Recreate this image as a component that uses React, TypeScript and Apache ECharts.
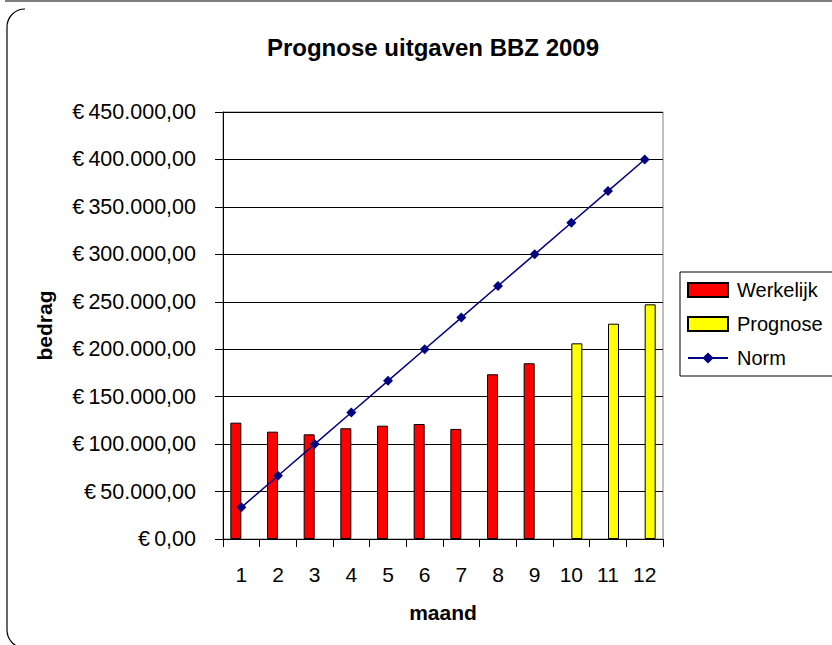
import React, { useEffect, useRef } from "react";
import * as echarts from "echarts";

const months = ["1", "2", "3", "4", "5", "6", "7", "8", "9", "10", "11", "12"];
const werkelijk = [122600, 113100, 110300, 116700, 119400, 121200, 116000, 173600, 185200, null, null, null];
const prognose = [null, null, null, null, null, null, null, null, null, 206200, 226900, 247300];
const norm = [33333, 66667, 100000, 133333, 166667, 200000, 233333, 266667, 300000, 333333, 366667, 400000];
const yMin = 0;
const yMax = 450000;
const yStep = 50000;

const FONT = "'Liberation Sans', Arial, sans-serif";

function euro(v: number): string {
  const intPart = Math.round(v).toString().replace(/\B(?=(\d{3})+(?!\d))/g, ".");
  return "€\u2009" + intPart + ",00";
}

export default function App() {
  const ref = useRef<HTMLDivElement>(null);
  useEffect(() => {
    if (!ref.current) return;
    const chart = echarts.init(ref.current, undefined, { renderer: "svg" });
    chart.setOption({
      animation: false,
      backgroundColor: "#ffffff",
      textStyle: { fontFamily: FONT },
      title: {
        text: "Prognose uitgaven BBZ 2009",
        left: 428,
        textAlign: "center",
        top: 30,
        textStyle: { fontFamily: FONT, fontSize: 24, fontWeight: "bold", color: "#000" },
      },
      legend: {
        orient: "vertical",
        left: 680,
        top: 272,
        padding: [8, 12, 8, 7],
        itemGap: 14,
        itemWidth: 40,
        itemHeight: 14,
        borderColor: "#000",
        borderWidth: 1,
        backgroundColor: "#fff",
        textStyle: { fontFamily: FONT, fontSize: 20, color: "#000", padding: [0, 0, 0, 4] },
        data: [
          { name: "Werkelijk", icon: "rect" },
          { name: "Prognose", icon: "rect" },
          { name: "Norm" },
        ],
      },
      grid: {
        left: 223,
        top: 112,
        width: 440,
        height: 427,
        show: true,
        borderColor: "#808080",
        borderWidth: 1,
        backgroundColor: "transparent",
      },
      xAxis: {
        type: "category",
        data: months,
        name: "maand",
        nameLocation: "middle",
        nameGap: 63,
        nameTextStyle: { fontFamily: FONT, fontSize: 21, fontWeight: "bold", color: "#000" },
        axisLine: { lineStyle: { color: "#000", width: 1 } },
        axisTick: { show: true, length: 8, alignWithLabel: false, lineStyle: { color: "#000" } },
        axisLabel: { fontFamily: FONT, fontSize: 21, color: "#000", margin: 25 },
        splitLine: { show: false },
      },
      yAxis: {
        type: "value",
        min: yMin,
        max: yMax,
        interval: yStep,
        name: "bedrag",
        nameLocation: "middle",
        nameRotate: 90,
        nameGap: 168,
        nameTextStyle: { fontFamily: FONT, fontSize: 21, fontWeight: "bold", color: "#000" },
        axisLine: { show: true, lineStyle: { color: "#000", width: 1 } },
        axisTick: { show: true, length: 8, lineStyle: { color: "#000" } },
        axisLabel: { fontFamily: FONT, fontSize: 21.5, color: "#000", margin: 27, formatter: (v: number) => euro(v) },
        splitLine: { show: true, lineStyle: { color: "#000", width: 1 } },
      },
      series: [
        {
          name: "Werkelijk",
          type: "bar",
          data: werkelijk,
          barGap: "0%",
          barCategoryGap: "40%",
          itemStyle: { color: "#ff0000", borderColor: "#000", borderWidth: 1 },
        },
        {
          name: "Prognose",
          type: "bar",
          data: prognose,
          barGap: "0%",
          barCategoryGap: "40%",
          itemStyle: { color: "#ffff00", borderColor: "#000", borderWidth: 1 },
        },
        {
          name: "Norm",
          type: "line",
          data: norm,
          symbol: "diamond",
          symbolSize: 10,
          itemStyle: { color: "#000080" },
          lineStyle: { color: "#000080", width: 1.5 },
          z: 5,
        },
      ],
      graphic: [
        { type: "line", shape: { x1: 5, y1: 1, x2: 832, y2: 1 }, style: { stroke: "#000", lineWidth: 1.2 }, z: 100 },
        { type: "line", shape: { x1: 7, y1: 27, x2: 7, y2: 630 }, style: { stroke: "#000", lineWidth: 1.2 }, z: 100 },
        {
          type: "arc",
          shape: { cx: 25, cy: 27, r: 18, startAngle: Math.PI, endAngle: Math.PI * 1.5, clockwise: true },
          style: { stroke: "#000", lineWidth: 1.2, fill: null },
          z: 100,
        },
        {
          type: "arc",
          shape: { cx: 25, cy: 630, r: 18, startAngle: Math.PI * 0.5, endAngle: Math.PI, clockwise: true },
          style: { stroke: "#000", lineWidth: 1.2, fill: null },
          z: 100,
        },
      ],
    });
    return () => chart.dispose();
  }, []);
  return (
    <div
      ref={ref}
      style={{ position: "fixed", left: 0, top: 0, width: 832, height: 645 }}
    />
  );
}
